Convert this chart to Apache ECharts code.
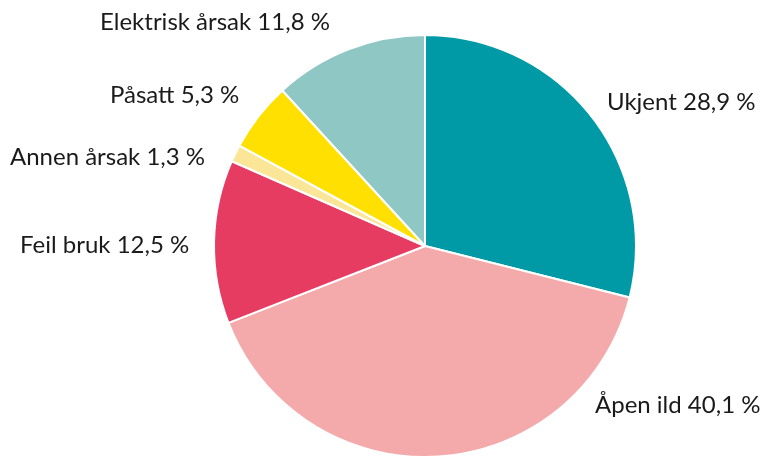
<!DOCTYPE html>
<html>
<head>
<meta charset="utf-8">
<script src="https://cdn.jsdelivr.net/npm/echarts@6/dist/echarts.min.js"></script>
<style>
  html, body { margin: 0; padding: 0; background: #fff; }
  #chart { width: 765px; height: 458px; }
</style>
</head>
<body>
<div id="chart"></div>
<script>
// Brannårsaker, andel i prosent
const categories = ['Ukjent', 'Åpen ild', 'Feil bruk', 'Annen årsak', 'Påsatt', 'Elektrisk årsak'];
const shares = [28.9, 40.1, 12.5, 1.3, 5.3, 11.8];
const colors = ['#009aa6', '#f4a9aa', '#e63c62', '#fbe697', '#ffe000', '#8fc7c4'];

const fmt = v => v.toFixed(1).replace('.', ',') + ' %';

// where each label sits (left edge, middle), same order as categories
const labelSpots = [[607, 102], [595, 405], [20, 245], [10, 157], [110, 95], [100, 22]];

const chart = echarts.init(document.getElementById('chart'));

chart.setOption({
  animation: false,
  series: [
    {
      type: 'pie',
      center: [425, 246],
      radius: 211,
      startAngle: 90,
      clockwise: true,
      avoidLabelOverlap: false,
      data: categories.map((name, i) => ({
        name: name,
        value: shares[i],
        itemStyle: { color: colors[i] }
      })),
      itemStyle: {
        borderColor: '#fff',
        borderWidth: 2
      },
      label: {
        show: true,
        position: 'outside',
        formatter: p => p.name + ' ' + fmt(p.value),
        fontFamily: 'Lato',
        fontSize: 24,
        color: '#1a1a1a'
      },
      labelLine: { show: false },
      labelLayout: p => ({
        x: labelSpots[p.dataIndex][0],
        y: labelSpots[p.dataIndex][1],
        align: 'left',
        verticalAlign: 'middle'
      }),
      emphasis: { disabled: true }
    }
  ]
});
</script>
</body>
</html>
